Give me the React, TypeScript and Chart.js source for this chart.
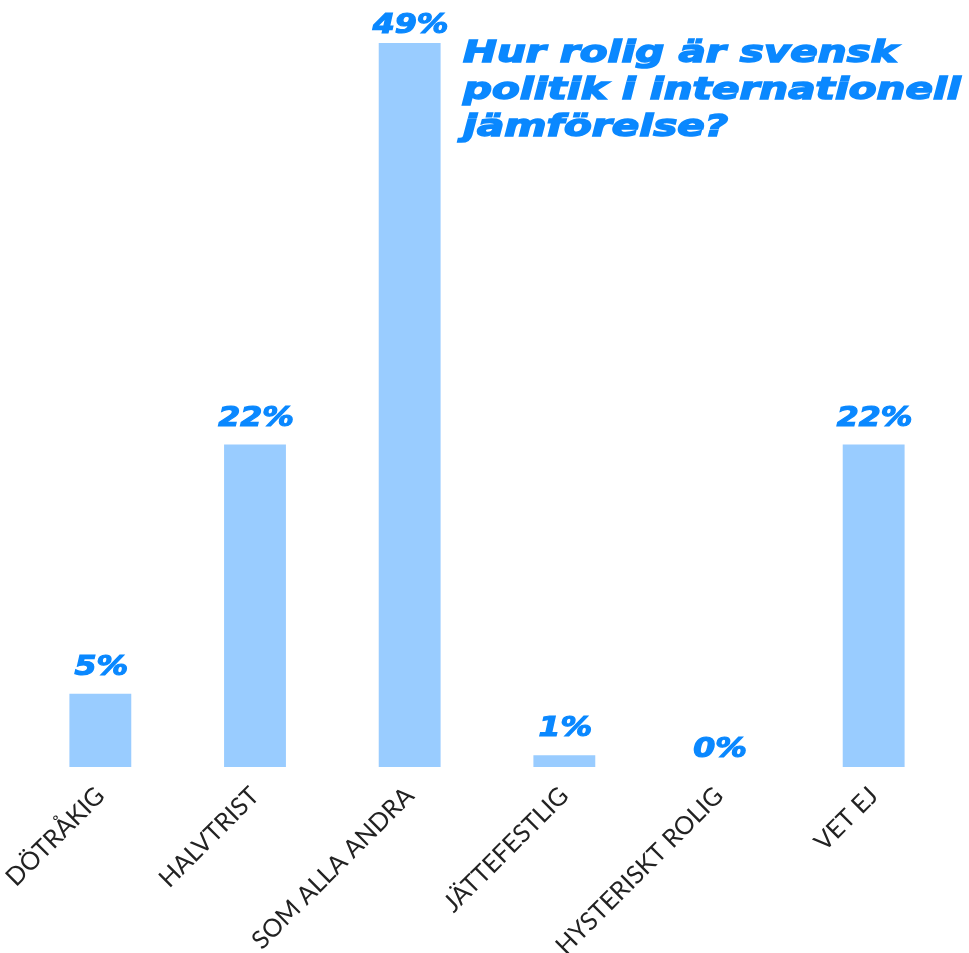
import React, { useEffect, useRef } from "react";
import { Chart, registerables } from "chart.js";

Chart.register(...registerables);

const categories = ["DÖTRÅKIG", "HALVTRIST", "SOM ALLA ANDRA", "JÄTTEFESTLIG", "HYSTERISKT ROLIG", "VET EJ"];
const values = [5, 22, 49.4, 0.8, 0, 22];
const titleLines = ["Hur rolig är svensk", "politik i internationell", "jämförelse?"];

const BAR_COLOR = "#99ccff";
const LABEL_COLOR = "#0a88ff";

const valueLabels = {
  id: "valueLabels",
  afterDatasetsDraw(chart: any) {
    const ctx = chart.ctx;
    const meta = chart.getDatasetMeta(0);
    ctx.save();
    ctx.fillStyle = LABEL_COLOR;
    ctx.strokeStyle = LABEL_COLOR;
    ctx.lineWidth = 1.2;
    ctx.font = "italic bold 27px 'DejaVu Sans'";
    ctx.textAlign = "center";
    ctx.textBaseline = "alphabetic";
    meta.data.forEach((el: any, i: number) => {
      const txt = Math.round(values[i]) + "%";
      const gap = values[i] === 0 ? 10 : 19;
      const y = Math.max(el.y - gap, chart.chartArea.top - 10);
      ctx.save();
      ctx.translate(el.x + 1, y);
      ctx.scale(1.17, 1);
      ctx.fillText(txt, 0, 0);
      ctx.strokeText(txt, 0, 0);
      ctx.restore();
    });
    ctx.restore();
  },
};

export default function App() {
  const ref = useRef<HTMLCanvasElement>(null);
  useEffect(() => {
    document.body.style.margin = "0";
    const chart = new Chart(ref.current!, {
      type: "bar",
      data: {
        labels: categories,
        datasets: [
          {
            data: values,
            backgroundColor: BAR_COLOR,
            categoryPercentage: 1,
            barPercentage: 0.4,
          },
        ],
      },
      options: {
        animation: false,
        responsive: false,
        layout: { padding: { top: 43, left: 23, right: 18, bottom: 0 } },
        plugins: { legend: { display: false }, tooltip: { enabled: false }, title: { display: false } },
        scales: {
          y: { display: false, min: 0, max: 49.4 },
          x: {
            grid: { display: false, drawTicks: false },
            border: { display: false },
            afterFit: (s: any) => {
              s.height = 186;
              s.paddingLeft = 0;
              s.paddingRight = 0;
            },
            ticks: {
              minRotation: 45,
              maxRotation: 45,
              color: "#222222",
              padding: 14,
              font: { family: "Lato", size: 25 },
            },
          },
        },
      },
      plugins: [valueLabels],
    });
    return () => chart.destroy();
  }, []);
  return (
    <div style={{ position: "relative", width: 969, height: 953, background: "#fff" }}>
      <canvas ref={ref} width={969} height={953} />
      <div
        style={{
          position: "absolute",
          left: 463,
          top: 33,
          color: LABEL_COLOR,
          fontFamily: "'DejaVu Sans'",
          fontWeight: "bold",
          fontStyle: "italic",
          fontSize: 30,
          lineHeight: "37px",
          whiteSpace: "nowrap",
          transform: "scaleX(1.35)",
          transformOrigin: "left top",
          WebkitTextStroke: "1.5px " + LABEL_COLOR,
        }}
      >
        {titleLines.map((l, i) => (
          <div key={i}>{l}</div>
        ))}
      </div>
    </div>
  );
}
